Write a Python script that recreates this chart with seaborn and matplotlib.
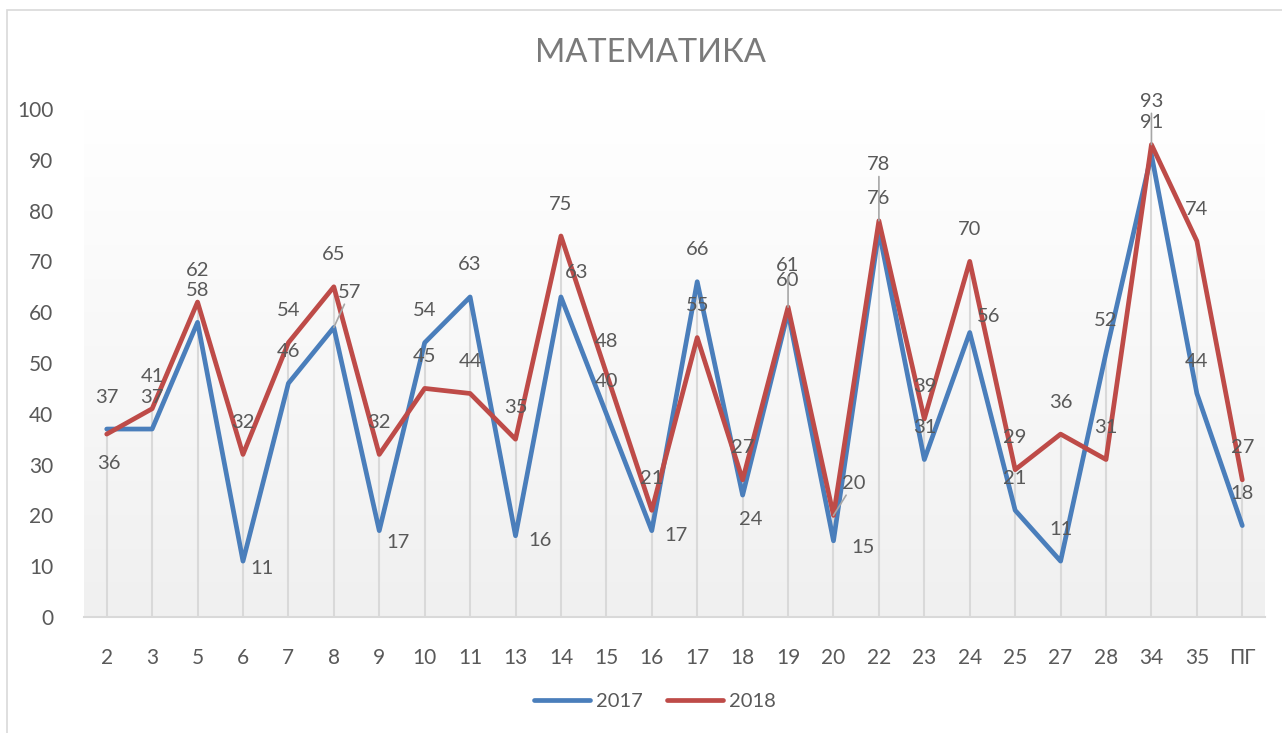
import numpy as np
import pandas as pd
import matplotlib
matplotlib.use("Agg")
import matplotlib.pyplot as plt
import seaborn as sns
from matplotlib.colors import LinearSegmentedColormap
from matplotlib.lines import Line2D
from matplotlib.patches import Rectangle

# ---------------- data ----------------
categories = ["2", "3", "5", "6", "7", "8", "9", "10", "11", "13", "14", "15", "16",
              "17", "18", "19", "20", "22", "23", "24", "25", "27", "28", "34", "35", "ПГ"]
values_2017 = [37, 37, 58, 11, 46, 57, 17, 54, 63, 16, 63, 40, 17, 66, 24, 60, 15, 76,
               31, 56, 21, 11, 52, 91, 44, 18]
values_2018 = [36, 41, 62, 32, 54, 65, 32, 45, 44, 35, 75, 48, 21, 55, 27, 61, 20, 78,
               39, 70, 29, 36, 31, 93, 74, 27]
years = ["2017", "2018"]
title_text = "МАТЕМАТИКА"
yticks = [0, 10, 20, 30, 40, 50, 60, 70, 80, 90, 100]

# ---------------- styling ----------------
sns.set_style("white")
plt.rcParams["font.family"] = ["Lato", "Open Sans", "DejaVu Sans"]
TXT = "#595959"
colors = {"2017": "#4A7EBB", "2018": "#BE4B48"}

W, H = 1282, 733
fig = plt.figure(figsize=(W / 100, H / 100), dpi=100)
fig.patch.set_facecolor("white")

# outer chart border
fig.add_artist(Rectangle((7 / W, -0.05), 1.2, 1 - 10 / H + 0.05, transform=fig.transFigure,
                         fill=False, edgecolor="#d9d9d9", lw=1.2))

ax = fig.add_axes([84 / W, 1 - 617 / H, (1265 - 84) / W, (617 - 109) / H])

n = len(categories)
pos = np.arange(n)

# gradient background
cmap = LinearSegmentedColormap.from_list("g", ["#f0f0f0", "#ffffff"])
grad = np.linspace(0, 1, 256)[:, None]
ax.imshow(grad, extent=(-0.5, n - 0.5, 0, 100), origin="lower", aspect="auto",
          cmap=cmap, zorder=0)

# drop lines
tops = np.maximum(values_2017, values_2018)
ax.vlines(pos, 0, tops, color="#d9d9d9", lw=1.5, zorder=1)

df = pd.DataFrame({
    "pos": np.concatenate([pos, pos]),
    "value": values_2017 + values_2018,
    "year": [years[0]] * n + [years[1]] * n,
})
sns.lineplot(data=df, x="pos", y="value", hue="year", palette=colors, linewidth=3.4,
             legend=False, sort=False, ax=ax, zorder=3)

ax.set_xlim(-0.5, n - 0.5)
ax.set_ylim(0, 100)
ax.set_yticks(yticks)
ax.set_yticklabels([str(t) for t in yticks], fontsize=15, color=TXT)
ax.set_xticks(pos)
ax.set_xticklabels(categories, fontsize=15, color=TXT)
ax.tick_params(axis="both", length=0)
ax.tick_params(axis="y", pad=22)
ax.tick_params(axis="x", pad=22)
ax.set_xlabel("")
ax.set_ylabel("")
for s in ["top", "right", "left"]:
    ax.spines[s].set_visible(False)
ax.spines["bottom"].set_color("#d9d9d9")
ax.spines["bottom"].set_linewidth(1.5)
ax.spines["bottom"].set_zorder(2)
ax.set_facecolor("none")

# data labels: (dx, dy) offsets in pixels, default above
off17 = {3: (19, -7), 5: (16, 35), 6: (19, -12), 9: (25, -5), 10: (16, 24), 12: (24, -5),
         14: (8, -24), 16: (30, -7), 19: (19, 16)}
off18 = {0: (2, -29), 15: (0, 42), 16: (20, 32), 17: (0, 56), 23: (0, 43)}
lead17 = {5}
lead18 = {15, 16, 17, 23}

def label(vals, offs, leads):
    for i, v in enumerate(vals):
        dx, dy = offs.get(i, (0, 32))
        ap = None
        if i in leads:
            ap = dict(arrowstyle="-", color="#a6a6a6", lw=1.2, shrinkA=0, shrinkB=0)
        ax.annotate(str(v), (i, v), xytext=(dx, dy), textcoords="offset pixels",
                    ha="center", va="center", fontsize=14.5, color=TXT, zorder=5,
                    arrowprops=ap, annotation_clip=False)

label(values_2017, off17, lead17)
label(values_2018, off18, lead18)

# title
fig.text(650 / W, 1 - 53 / H, title_text, ha="center", va="center", fontsize=23.5,
         color="#7a7a7a")

# legend
handles = [Line2D([0], [0], color=colors[y], lw=3.4, solid_capstyle="round") for y in years]
leg = fig.legend(handles, years, loc="center", bbox_to_anchor=(655 / W, 1 - 701 / H),
                 ncol=2, frameon=False, fontsize=14.5, handlelength=2.8, handletextpad=0.3,
                 columnspacing=1.2)
for t in leg.get_texts():
    t.set_color(TXT)

fig.savefig("out.png", dpi=100)
